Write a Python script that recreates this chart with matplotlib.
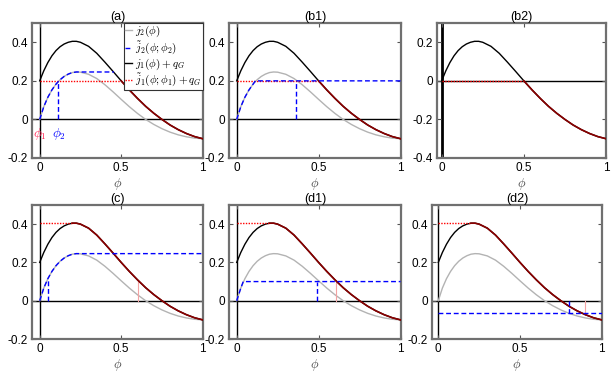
import numpy as np
import matplotlib
matplotlib.use("Agg")
import matplotlib.pyplot as plt

plt.rcParams["font.family"] = ["Liberation Sans", "DejaVu Sans"]
plt.rcParams["mathtext.fontset"] = "cm"
plt.rcParams["axes.unicode_minus"] = False

# curves
phi = [0, 0.025, 0.05, 0.075, 0.1, 0.125, 0.15, 0.175, 0.2, 0.225, 0.25,
       0.3, 0.35, 0.4, 0.45, 0.5, 0.55, 0.6, 0.65, 0.7, 0.75, 0.8, 0.85,
       0.9, 0.95, 1.0]
j1 = [0, 0.052, 0.095, 0.130, 0.157, 0.177, 0.191, 0.200, 0.205, 0.205, 0.200,
      0.179, 0.143, 0.097, 0.049, 0.0, -0.047, -0.091, -0.132, -0.168, -0.200,
      -0.229, -0.253, -0.273, -0.289, -0.300]
j2 = [0, 0.066, 0.115, 0.153, 0.183, 0.206, 0.223, 0.235, 0.243, 0.246, 0.245,
      0.234, 0.212, 0.180, 0.143, 0.104, 0.066, 0.031, 0.0, -0.026, -0.048,
      -0.066, -0.080, -0.090, -0.097, -0.100]

panel_names = ["(a)", "(b1)", "(b2)", "(c)", "(d1)", "(d2)"]
q_G = [0.2, 0.2, 0.0, 0.2, 0.2, 0.2]
# red: flat level, and where it joins the black curve
red_level = [0.2, 0.2, 0.0, 0.405, 0.405, 0.405]
red_join = [0.5, 0.5, 0.5, 0.2, 0.2, 0.2]
# blue: where it leaves the gray curve, flat level, end of flat part
blue_leave = [0.225, 0.114, None, 0.225, 0.04, 0.0]
blue_level = [0.246, 0.2, None, 0.246, 0.1, -0.066]
blue_end = [0.455, 1.0, None, 1.0, 1.0, 1.0]
# blue vertical marker (phi, height)
blue_vx = [0.114, 0.36, None, 0.05, 0.49, 0.8]
blue_vy = [0.2, 0.2, None, 0.113, 0.1, -0.066]
# pink vertical marker
pink_vx = [None, None, None, 0.6, 0.605, 0.9]
pink_vy = [None, None, None, 0.106, 0.1, -0.071]

ylims = [(-0.2, 0.5), (-0.2, 0.5), (-0.4, 0.3), (-0.2, 0.5), (-0.2, 0.5), (-0.2, 0.5)]
yticks = [[-0.2, 0, 0.2, 0.4], [-0.2, 0, 0.2, 0.4], [-0.4, -0.2, 0, 0.2],
          [-0.2, 0, 0.2, 0.4], [-0.2, 0, 0.2, 0.4], [-0.2, 0, 0.2, 0.4]]

W, H = 615, 378
# pixel boxes: left, right, top, bottom
boxes = [(32.3, 202.7, 23, 158), (229.3, 400.5, 23, 158), (437.3, 606, 23, 158),
         (32.3, 202.7, 205, 339), (229.3, 400.5, 205, 339), (432.3, 601.7, 205, 339)]
x0px = [39.7, 236.7, 441.7, 39.7, 236.7, 438.3]

fig = plt.figure(figsize=(W / 100, H / 100), dpi=100)

phi_a = np.array(phi)
j1_a = np.array(j1)
j2_a = np.array(j2)

GRAY = "#b3b3b3"
BLUE = "#0000ff"
RED = "#ff0000"
DARKRED = "#8a0000"
PINK = "#f3a3a3"

for i in range(6):
    l, r, t, b = boxes[i]
    ax = fig.add_axes([l / W, 1 - b / H, (r - l) / W, (b - t) / H])
    xmin = -(x0px[i] - l) / (r - x0px[i])
    ax.set_xlim(xmin, 1)
    ax.set_ylim(*ylims[i])

    black = j1_a + q_G[i]

    ax.axhline(0, color="black", lw=1.0, zorder=1)
    ax.axvline(0, color="black", lw=2.0 if i == 2 else 1.0, zorder=1)

    gray_line = None
    if i != 2:
        gray_line, = ax.plot(phi_a, j2_a, color=GRAY, lw=1.0, zorder=2)
    black_line, = ax.plot(phi_a, black, color="black", lw=1.0, zorder=3)

    # red: flat then following black
    red_line, = ax.plot([0, red_join[i]], [red_level[i], red_level[i]], color=RED,
                        lw=1.0, ls=(0, (1, 1)), zorder=4)
    m = phi_a > red_join[i]
    ax.plot(np.r_[red_join[i], phi_a[m]], np.r_[red_level[i], black[m]],
            color=DARKRED, lw=1.2, zorder=4)

    blue_line = None
    if blue_leave[i] is not None:
        mb = phi_a < blue_leave[i]
        bx = np.r_[phi_a[mb], blue_leave[i], blue_end[i]]
        by = np.r_[j2_a[mb], blue_level[i], blue_level[i]]
        if blue_leave[i] == 0:
            bx = np.array([0, blue_end[i]])
            by = np.array([blue_level[i], blue_level[i]])
        blue_line, = ax.plot(bx, by, color=BLUE, lw=1.0, ls=(0, (3.5, 2)), zorder=5)
        ax.plot([blue_vx[i], blue_vx[i]], [0, blue_vy[i]], color=BLUE, lw=1.0,
                ls=(0, (3.5, 2)), zorder=5)

    if pink_vx[i] is not None:
        ax.plot([pink_vx[i], pink_vx[i]], [0, pink_vy[i]], color=PINK, lw=0.8, zorder=2)

    ax.set_xticks([0, 0.5, 1])
    ax.set_xticklabels(["0", "0.5", "1"])
    ax.set_yticks(yticks[i])
    ax.set_yticklabels(["%g" % v for v in yticks[i]])
    ax.tick_params(direction="in", length=3, width=0.8, color="#555555",
                   top=True, right=True, labelsize=8.5, pad=3)
    for s in ax.spines.values():
        s.set_color("#707070")
        s.set_linewidth(1.6)
    ax.set_title(panel_names[i], fontsize=9, pad=2)
    ax.set_xlabel(r"$\phi$", fontsize=9, color="#444444", labelpad=1)

    if i == 0:
        ax.text(0.0, -0.075, r"$\phi_1$", color="#ff2050", fontsize=9.5,
                ha="center", va="center", zorder=11)
        ax.text(0.12, -0.075, r"$\phi_2$", color=BLUE, fontsize=9.5,
                ha="center", va="center", zorder=11)
        leg = ax.legend([gray_line, blue_line, black_line, red_line],
                        [r"$j_2(\phi)$", r"$\tilde{j}_2(\phi;\phi_2)$",
                         r"$j_1(\phi)+q_G$", r"$\tilde{j}_1(\phi;\phi_1)+q_G$"],
                        loc="upper right", bbox_to_anchor=(1.0, 1.0),
                        borderaxespad=0, fontsize=8, handlelength=0.6,
                        handletextpad=0.3, labelspacing=0.0, borderpad=0.1,
                        fancybox=False, framealpha=1, edgecolor="#333333")
        leg.get_frame().set_linewidth(0.8)
        leg.set_zorder(10)

fig.savefig("out.png", dpi=100)
